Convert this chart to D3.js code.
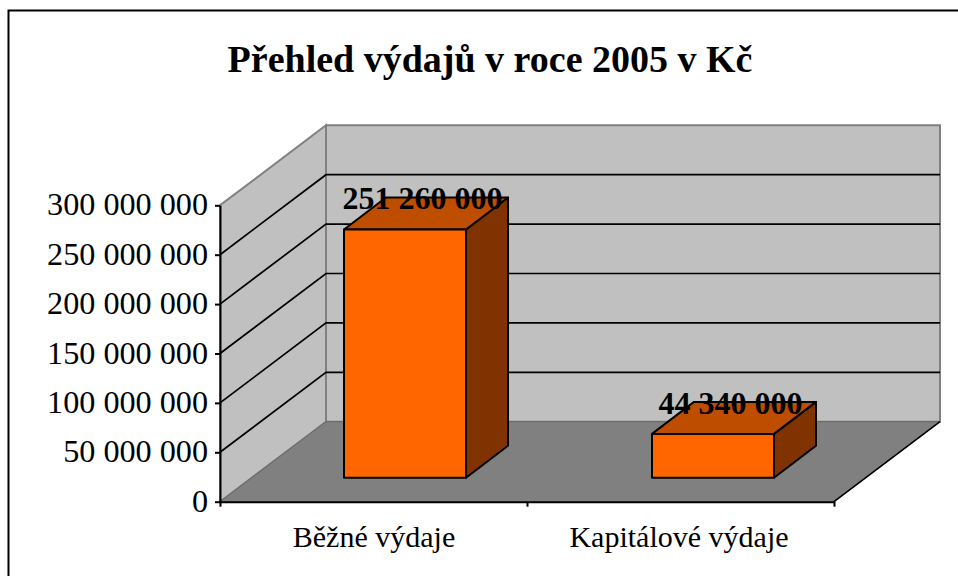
<!DOCTYPE html>
<html><head><meta charset="utf-8">
<script src="https://cdn.jsdelivr.net/npm/d3@7/dist/d3.min.js"></script>
<style>html,body{margin:0;padding:0;background:#fff;overflow:hidden}svg{display:block}text{font-family:"Liberation Serif",serif;fill:#000}</style>
</head><body><svg id="c" width="958" height="576"></svg>
<script>
const titleText = "Přehled výdajů v roce 2005 v Kč";
const categories = ["Běžné výdaje", "Kapitálové výdaje"];
const values = [251260000, 44340000];
const valueLabels = ["251 260 000", "44 340 000"];
const yTicks = [0, 50000000, 100000000, 150000000, 200000000, 250000000, 300000000];
const yTickLabels = ["0", "50 000 000", "100 000 000", "150 000 000", "200 000 000", "250 000 000", "300 000 000"];

const svg = d3.select("#c");
const y = d3.scaleLinear().domain([0, 300000000]).range([501.7, 205.3]);
const x = d3.scaleBand().domain(categories).range([220, 834]);
const depth = {dx: 106, dy: -80};
const barDepth = {dx: 42, dy: -32};
const barW = 122;
const barBaseLift = 24;
const barShift = 32.5;
const line = d3.line();
const poly = pts => line(pts) + "Z";

svg.append("rect").attr("x", 8.5).attr("y", 10.5).attr("width", 1000).attr("height", 640)
  .attr("fill", "#fff").attr("stroke", "#000").attr("stroke-width", 2);
svg.append("text").attr("x", 490).attr("y", 72).attr("text-anchor", "middle")
  .attr("font-size", 38).attr("font-weight", "bold").text(titleText);

const x0 = x.range()[0], x1 = x.range()[1], yB = y(0), yT = y(300000000);
// walls
svg.append("path").attr("d", poly([[x0+depth.dx,yB+depth.dy],[x1+depth.dx,yB+depth.dy],[x1+depth.dx,yT+depth.dy],[x0+depth.dx,yT+depth.dy]]))
  .attr("fill", "#c0c0c0").attr("stroke", "#808080").attr("stroke-width", 2);
svg.append("path").attr("d", poly([[x0,yB],[x0+depth.dx,yB+depth.dy],[x0+depth.dx,yT+depth.dy],[x0,yT]]))
  .attr("fill", "#c0c0c0").attr("stroke", "#808080").attr("stroke-width", 2);
// floor
svg.append("path").attr("d", poly([[x0,yB],[x1,yB],[x1+depth.dx,yB+depth.dy],[x0+depth.dx,yB+depth.dy]]))
  .attr("fill", "#808080").attr("stroke", "#666").attr("stroke-width", 1);
svg.append("path").attr("d", line([[x1,yB],[x1+depth.dx,yB+depth.dy]])).attr("fill","none").attr("stroke","#000").attr("stroke-width",1.6);
// gridlines
const gridTicks = yTicks.filter(t => t > 0 && t < 300000000);
svg.append("g").selectAll("path").data(gridTicks).join("path")
  .attr("d", t => line([[x0,y(t)],[x0+depth.dx,y(t)+depth.dy],[x1+depth.dx,y(t)+depth.dy]]))
  .attr("fill","none").attr("stroke","#000").attr("stroke-width",1.7);

// axes
const yAxis = d3.axisLeft(y).tickValues(yTicks).tickSize(5).tickSizeOuter(0).tickFormat((d,i)=>yTickLabels[i]);
const gy = svg.append("g").attr("transform",`translate(${x0},0)`).call(yAxis);
const xTickScale = d3.scalePoint().domain([0,1,2]).range([x0,x1]);
const xAxis = d3.axisBottom(xTickScale).tickSize(5).tickSizeOuter(0).tickFormat("");
const gx = svg.append("g").attr("transform",`translate(0,${yB})`).call(xAxis);
[gy,gx].forEach(g=>{g.selectAll("path,line").attr("stroke","#000").attr("stroke-width",2);});
gy.selectAll("text").attr("font-size",32.2).attr("font-family","Liberation Serif").attr("x",-12).attr("dy","0.3em").attr("fill","#000");
svg.append("g").selectAll("text").data(categories).join("text")
  .attr("x",(c,i)=>x(c)+x.bandwidth()/2+(i?-1.5:0.5)).attr("y",547).attr("text-anchor","middle").attr("font-size",30).text(d=>d);

// bars
const yBase = yB - barBaseLift;
const bars = svg.append("g").selectAll("g").data(values).join("g");
const bx = (d,i)=> x(categories[i]) + (x.bandwidth()-barW)/2 + barShift - 1 + i;
const yv = d => y(d) - barBaseLift;
bars.append("path").attr("d",(d,i)=>{const a=bx(d,i),b=a+barW,t=yv(d);
  return poly([[b,t],[b+barDepth.dx,t+barDepth.dy],[b+barDepth.dx,yBase+barDepth.dy],[b,yBase]]);})
  .attr("fill","#803300");
bars.append("path").attr("d",(d,i)=>{const a=bx(d,i),b=a+barW,t=yv(d);
  return poly([[a,t],[a+barDepth.dx,t+barDepth.dy],[b+barDepth.dx,t+barDepth.dy],[b,t]]);})
  .attr("fill","#bf4d00");
bars.append("rect").attr("x",bx).attr("y",d=>yv(d)).attr("width",barW).attr("height",d=>yBase-yv(d)).attr("fill","#ff6600");
bars.selectAll("path,rect").attr("stroke","#000").attr("stroke-width",2).attr("stroke-linejoin","round");
bars.append("text").attr("x",(d,i)=>bx(d,i)+barW/2+17.5).attr("y",d=>yv(d)-20)
  .attr("text-anchor","middle").attr("font-size",32).attr("font-weight","bold").text((d,i)=>valueLabels[i]);
</script></body></html>
